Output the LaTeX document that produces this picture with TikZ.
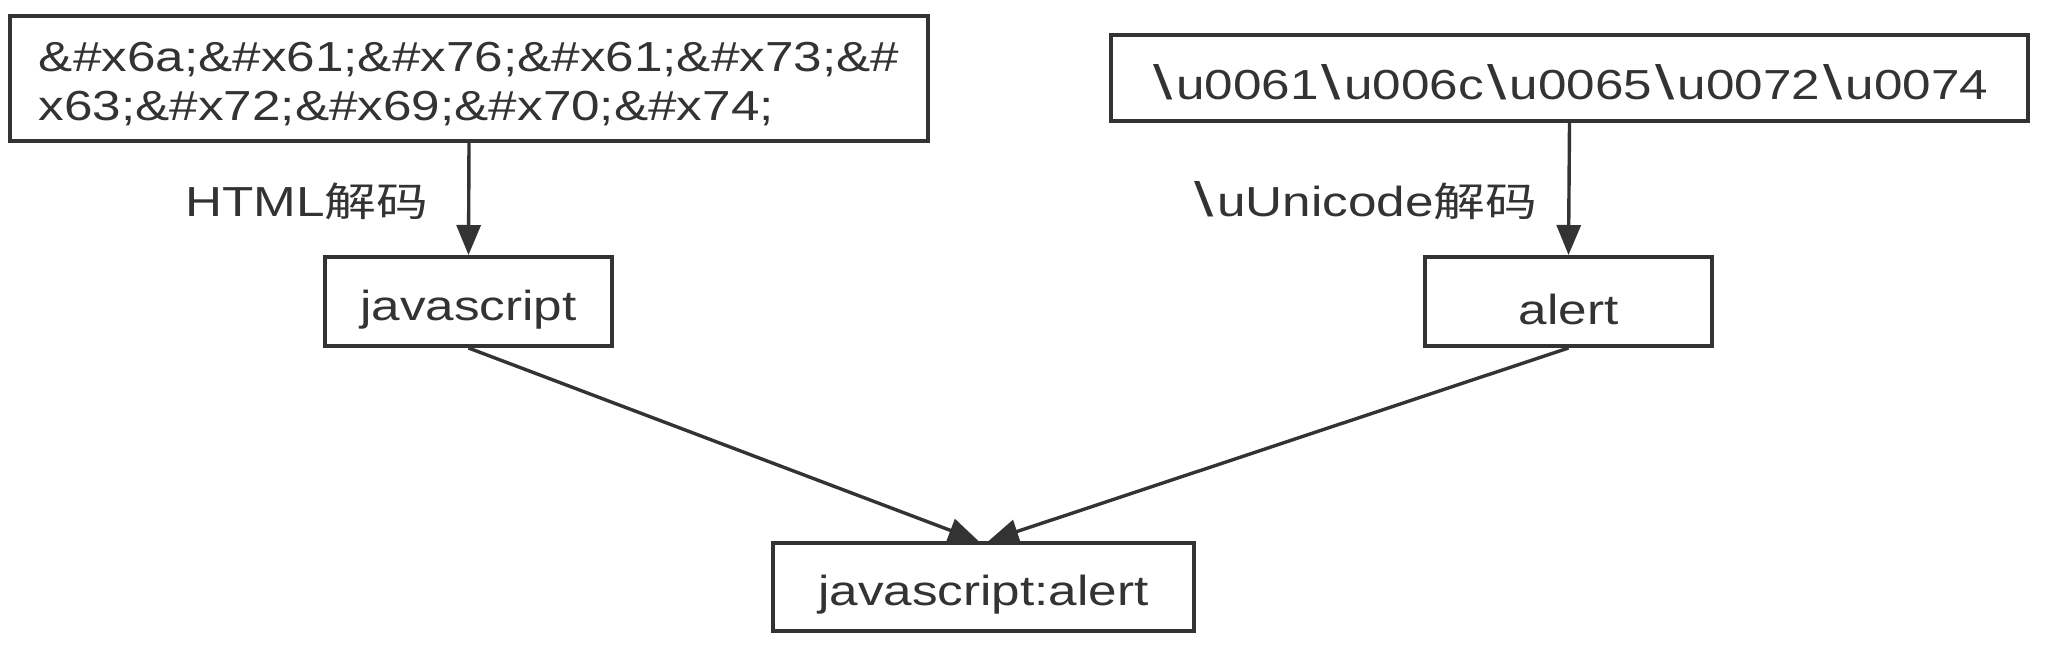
\documentclass[tikz,border=0pt]{standalone}
\usepackage{graphicx}
\usepackage{fontspec}
\setmainfont[FakeStretch=1.22]{Liberation Sans}
\newfontfamily\cjk[Scale=0.95,FakeStretch=1.3]{Noto Sans CJK SC}
\newcommand{\bsl}{\hspace{1.6pt}\scalebox{1.35}[1.15]{\textbackslash}\hspace{1.6pt}}
\newcommand{\dropby}[2]{\raisebox{-#1}[\height][\depth]{#2}}
\usetikzlibrary{arrows.meta}
\definecolor{ink}{HTML}{333333}
\begin{document}
\begin{tikzpicture}[x=0.5pt,y=-0.5pt,
  box/.style={draw=ink, line width=2pt, rectangle, inner sep=0pt, text=ink,
              font=\fontsize{21}{24.3}\selectfont},
  arr/.style={draw=ink, line width=1.7pt, -{Triangle[length=15pt,width=12pt]}},
  lbl/.style={text=ink, font=\fontsize{21}{24.3}\selectfont, inner sep=0pt, anchor=east}]
\useasboundingbox (0,0) rectangle (2060,651);
\node[box, minimum width=459pt, minimum height=62.5pt] (A) at (469,78.5)
  {\dropby{4pt}{\begin{tabular}{@{}l@{}}\&\#x6a;\&\#x61;\&\#x76;\&\#x61;\&\#x73;\&\#\\x63;\&\#x72;\&\#x69;\&\#x70;\&\#x74;\end{tabular}}};
\node[box, minimum width=458.5pt, minimum height=43pt] (B) at (1569.5,78)
  {\dropby{2pt}{\bsl u0061\bsl u006c\bsl u0065\bsl u0072\bsl u0074}};
\node[box, minimum width=143.5pt, minimum height=44.5pt] (C) at (468.5,301.5) {\dropby{4pt}{javascript}};
\node[box, minimum width=143.5pt, minimum height=44.5pt] (D) at (1568.5,301.5) {\dropby{4pt}{alert}};
\node[box, minimum width=210.5pt, minimum height=44pt] (E) at (983.5,587) {\dropby{4pt}{javascript:alert}};
\draw[arr] (A.south) -- (C.north);
\draw[arr] (B.south) -- (D.north);
\draw[arr] (C.south) -- ([xshift=-2.5pt]E.north);
\draw[arr] (D.south) -- ([xshift=2.5pt]E.north);
\node[lbl] (L1) at (429,201) {HTML{\cjk 解码}};
\node[lbl] (L2) at (1538,201) {\bsl uUnicode{\cjk 解码}};
\end{tikzpicture}
\end{document}
